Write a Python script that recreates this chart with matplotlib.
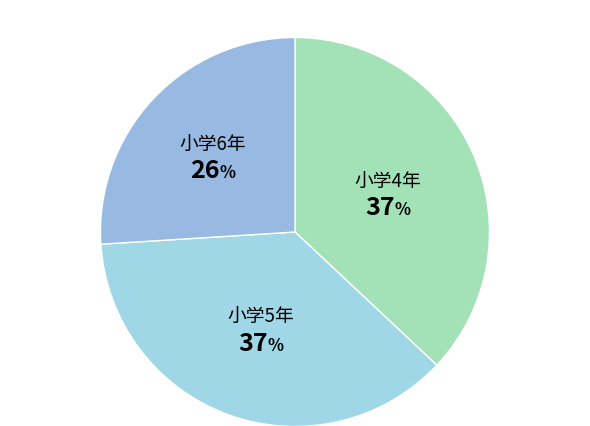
import numpy as np
import matplotlib
matplotlib.use('Agg')
import matplotlib.pyplot as plt

plt.rcParams['font.family'] = ['Noto Sans CJK JP', 'DejaVu Sans']

grades = ['小学4年', '小学5年', '小学6年']
shares = [37, 37, 26]
colors = ['#a3e2b6', '#a0d7e6', '#98b9e1']
label_r = [0.52, 0.52, 0.58]

fig = plt.figure(figsize=(5.9, 4.27), dpi=100)
r_px = 194.5
ax = fig.add_axes([(295 - r_px) / 590, (427 - 233 - r_px) / 427, 2 * r_px / 590, 2 * r_px / 427])
wedges, _ = ax.pie(shares, colors=colors, startangle=90, counterclock=False,
                   wedgeprops=dict(edgecolor='white', linewidth=1))
ax.set_xlim(-1, 1)
ax.set_ylim(-1, 1)
ax.set_aspect('equal')

fig.canvas.draw()
renderer = fig.canvas.get_renderer()
for w, name, val, lr in zip(wedges, grades, shares, label_r):
    mid = np.deg2rad((w.theta1 + w.theta2) / 2)
    cx, cy = lr * np.cos(mid), lr * np.sin(mid)
    ax.text(cx, cy + 0.055, name, ha='center', va='center', fontsize=13.5)
    t1 = ax.text(0, 0, str(val), fontsize=18, fontweight='bold', va='baseline')
    t2 = ax.text(0, 0, '%', fontsize=12, fontweight='bold', va='baseline')
    w1 = t1.get_window_extent(renderer).width
    w2 = t2.get_window_extent(renderer).width
    tot = (w1 + w2) / r_px
    x0 = cx - tot / 2
    yb = cy - 0.07 - 0.045
    t1.set_position((x0, yb))
    t2.set_position((x0 + w1 / r_px, yb))

fig.savefig('out.png', dpi=100)
